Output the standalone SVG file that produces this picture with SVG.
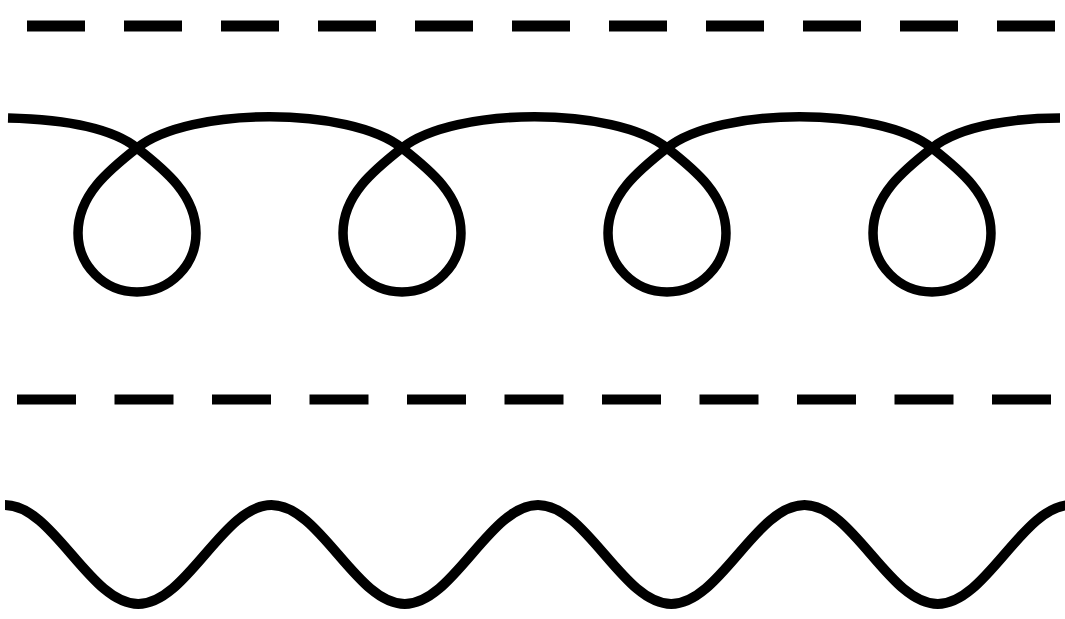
<svg xmlns="http://www.w3.org/2000/svg" width="1065" height="619" viewBox="0 0 1065 619">
  <style>
    .ln { fill: none; stroke: #000; stroke-linecap: butt; stroke-linejoin: round; }
  </style>
  <rect width="1065" height="619" fill="#fff"/>
  <g id="dashed-top">
    <line class="ln" x1="27" y1="26" x2="1055" y2="26" stroke-width="11" stroke-dasharray="58 39"/>
  </g>
  <g id="loops">
    <path class="ln" stroke-width="9.5" d="M8,118 C50,119 107,124 137,148
      C165,170 196,195 196,233 C196,265 170,292 137,292 C104,292 78,265 78,233 C78,195 109,170 137,148
      C189,106.4 350,106.4 402,148
      C430,170 461,195 461,233 C461,265 435,292 402,292 C369,292 343,265 343,233 C343,195 374,170 402,148
      C454,106.4 615,106.4 667,148
      C695,170 726,195 726,233 C726,265 700,292 667,292 C634,292 608,265 608,233 C608,195 639,170 667,148
      C719,106.4 880,106.4 932,148
      C960,170 991,195 991,233 C991,265 965,292 932,292 C899,292 873,265 873,233 C873,195 904,170 932,148
      C962,124 1020,118 1060,118"/>
  </g>
  <g id="dashed-middle">
    <line class="ln" x1="17" y1="399.5" x2="1051" y2="399.5" stroke-width="10" stroke-dasharray="59 38.5"/>
  </g>
  <g id="wave">
    <path class="ln" stroke-width="10" d="M5,505 c48.4,0 84.85,99 133.25,99 c48.4,0 84.85,-99 133.25,-99 c48.4,0 84.85,99 133.25,99 c48.4,0 84.85,-99 133.25,-99 c48.4,0 84.85,99 133.25,99 c48.4,0 84.85,-99 133.25,-99 c48.4,0 84.85,99 133.25,99 c48.4,0 84.85,-99 133.25,-99"/>
  </g>
</svg>
